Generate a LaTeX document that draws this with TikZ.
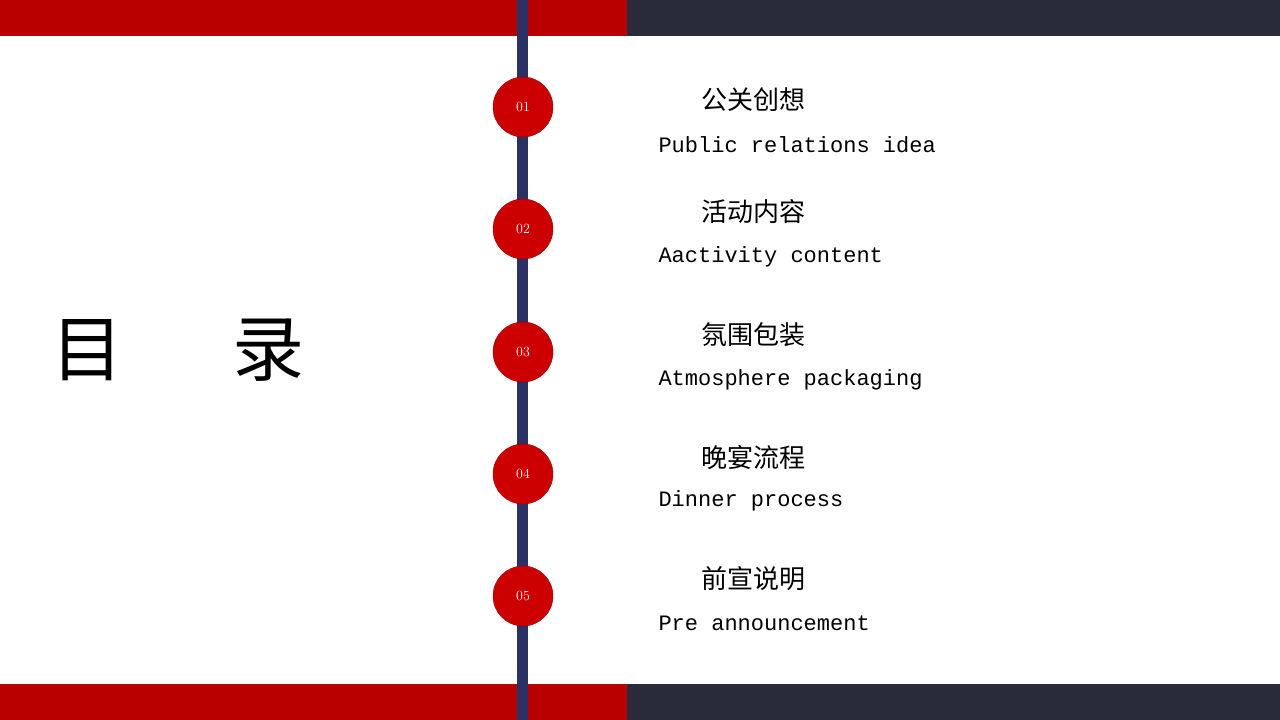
\documentclass[tikz,border=0pt]{standalone}
\usepackage{fontspec}
\setmonofont{Liberation Mono}
\newfontfamily\cjk{Noto Sans CJK SC}
\definecolor{barred}{HTML}{B80000}
\definecolor{bardark}{HTML}{2A2B3A}
\definecolor{spine}{HTML}{2B3163}
\definecolor{dotred}{HTML}{CC0000}
\tikzset{
  dot/.style={circle, fill=dotred, draw=dotred!70!black, minimum size=60pt, inner sep=0pt,
    text=white, font=\fontsize{14}{14}\selectfont},
  cntitle/.style={anchor=west, font=\cjk\fontsize{26}{26}\selectfont},
  entitle/.style={anchor=west, font=\ttfamily\fontsize{22}{22}\selectfont}
}
\begin{document}
\begin{tikzpicture}[x=1pt,y=-1pt]
\useasboundingbox (0,0) rectangle (1280,720);
\fill[white] (0,0) rectangle (1280,720);

% Bars top and bottom
\fill[barred] (0,0) rectangle (627,36);
\fill[bardark] (627,0) rectangle (1280,36);
\fill[barred] (0,684) rectangle (627,720);
\fill[bardark] (627,684) rectangle (1280,720);

% Spine
\fill[spine] (517,0) rectangle (528,720);

% Title
\node[font=\cjk\fontsize{72}{72}\selectfont] (mu) at (87,350) {目};
\node[font=\cjk\fontsize{72}{72}\selectfont] (lu) at (268,350) {录};

% Items
\foreach \n/\y/\yc/\ye/\cn/\en in {01/107/100/145/公关创想/Public relations idea,
                                   02/229/212/257/活动内容/Aactivity content,
                                   03/352/335/380/氛围包装/Atmosphere packaging,
                                   04/474/457/501/晚宴流程/Dinner process,
                                   05/596/579/623/前宣说明/Pre announcement}{
  \node[dot] (d\n) at (523,\y) {\n};
  \node[cntitle] (c\n) at (698,\yc) {\cn};
  \node[entitle] (e\n) at (655,\ye) {\en};
}
\end{tikzpicture}
\end{document}
